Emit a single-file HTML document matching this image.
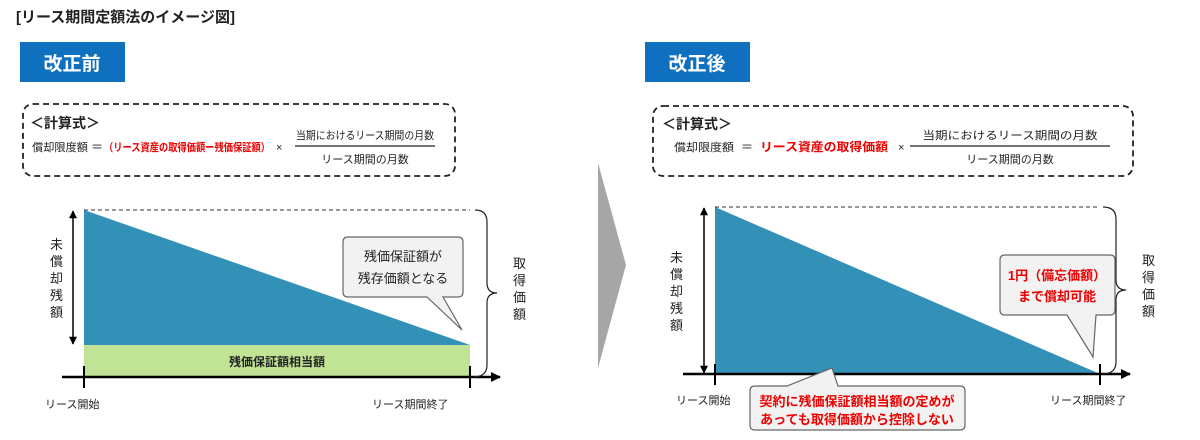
<!DOCTYPE html>
<html><head><meta charset="utf-8"><style>
body{margin:0;background:#fff}
svg{display:block}
text{font-family:"Liberation Sans","Noto Sans CJK JP",sans-serif;fill:#222}
</style></head><body>
<svg width="1200" height="440" viewBox="0 0 1200 440" xmlns="http://www.w3.org/2000/svg">
<defs>
<marker id="ah" viewBox="0 0 10 10" refX="9" refY="5" markerWidth="9" markerHeight="8" markerUnits="userSpaceOnUse" orient="auto-start-reverse"><path d="M0,0L10,5L0,10z" fill="#000"/></marker>
<marker id="ah2" viewBox="0 0 10 10" refX="9" refY="5" markerWidth="12" markerHeight="10" markerUnits="userSpaceOnUse" orient="auto"><path d="M0,0L10,5L0,10z" fill="#000"/></marker>
</defs>
<text x="16" y="22" font-size="15" font-weight="bold">[リース期間定額法のイメージ図]</text>

<!-- LEFT -->
<rect x="20" y="42" width="105" height="40" fill="#0f70c0"/>
<text x="72" y="70" font-size="19" style="fill:#fff" text-anchor="middle" font-weight="bold">改正前</text>
<rect x="23" y="104" width="432" height="72" rx="10" fill="none" stroke="#222" stroke-width="1.8" stroke-dasharray="6,4"/>
<text x="30" y="128" font-size="14" font-weight="bold">＜計算式＞</text>
<text x="32" y="151" font-size="11" textLength="56" lengthAdjust="spacingAndGlyphs">償却限度額</text>
<text x="91" y="151" font-size="12">＝</text>
<text x="104" y="151" font-size="11" font-weight="bold" style="fill:#e00" textLength="166" lengthAdjust="spacingAndGlyphs">（リース資産の取得価額ー残価保証額）</text>
<text x="276" y="151" font-size="11">×</text>
<line x1="295" y1="146" x2="435" y2="146" stroke="#222" stroke-width="1.2"/>
<text x="365" y="139" font-size="11" text-anchor="middle" textLength="138" lengthAdjust="spacingAndGlyphs">当期におけるリース期間の月数</text>
<text x="365" y="163" font-size="11" text-anchor="middle">リース期間の月数</text>

<polygon points="84,210 84,345 470,345" fill="#3391b8"/>
<rect x="84" y="345" width="386" height="32" fill="#c1e395"/>
<text x="277" y="366" font-size="12" font-weight="bold" text-anchor="middle">残価保証額相当額</text>
<line x1="84" y1="210" x2="470" y2="210" stroke="#333" stroke-dasharray="4,3"/>
<line x1="73" y1="211" x2="73" y2="344" stroke="#000" stroke-width="1.5" marker-start="url(#ah)" marker-end="url(#ah)"/>
<line x1="62" y1="377" x2="500" y2="377" stroke="#000" stroke-width="2.5" marker-end="url(#ah2)"/>
<line x1="84" y1="366" x2="84" y2="388" stroke="#000" stroke-width="2"/>
<line x1="470" y1="366" x2="470" y2="388" stroke="#000" stroke-width="2"/>
<path d="M475,210 Q487,210 487,222 L487,283 Q487,293 497,293 Q487,293 487,303 L487,365 Q487,377 473,377" fill="none" stroke="#222" stroke-width="1.2"/>
<text font-size="13"><tspan x="50" y="249">未</tspan><tspan x="50" y="266">償</tspan><tspan x="50" y="283">却</tspan><tspan x="50" y="300">残</tspan><tspan x="50" y="317">額</tspan></text>
<text font-size="13"><tspan x="513" y="268">取</tspan><tspan x="513" y="285">得</tspan><tspan x="513" y="302">価</tspan><tspan x="513" y="319">額</tspan></text>
<path d="M348,237 H458 Q463,237 463,242 V292 Q463,297 458,297 H443 L462,330 L427,297 H348 Q343,297 343,292 V242 Q343,237 348,237 Z" fill="#f2f2f2" stroke="#666" stroke-width="1.2"/>
<text x="403" y="261" font-size="13" text-anchor="middle">残価保証額が</text>
<text x="403" y="283" font-size="13" text-anchor="middle">残存価額となる</text>
<text x="45" y="408" font-size="11">リース開始</text>
<text x="372" y="408" font-size="11">リース期間終了</text>

<!-- chevron -->
<polygon points="598,163 626,265 598,368" fill="#a6a6a6"/>

<!-- RIGHT -->
<rect x="645" y="42" width="105" height="40" fill="#0f70c0"/>
<text x="697" y="70" font-size="19" style="fill:#fff" text-anchor="middle" font-weight="bold">改正後</text>
<rect x="653" y="106" width="480" height="70" rx="10" fill="none" stroke="#222" stroke-width="1.8" stroke-dasharray="6,4"/>
<text x="662" y="129" font-size="14" font-weight="bold">＜計算式＞</text>
<text x="674" y="151" font-size="11" textLength="60" lengthAdjust="spacingAndGlyphs">償却限度額</text>
<text x="741" y="151" font-size="12">＝</text>
<text x="760" y="151" font-size="12" font-weight="bold" style="fill:#e00" textLength="128" lengthAdjust="spacingAndGlyphs">リース資産の取得価額</text>
<text x="898" y="151" font-size="11">×</text>
<line x1="910" y1="146" x2="1110" y2="146" stroke="#222" stroke-width="1.2"/>
<text x="1010" y="139" font-size="11" text-anchor="middle" textLength="175" lengthAdjust="spacingAndGlyphs">当期におけるリース期間の月数</text>
<text x="1010" y="163" font-size="11" text-anchor="middle">リース期間の月数</text>

<polygon points="715,207 715,374 1100,374" fill="#3391b8"/>
<line x1="715" y1="207" x2="1100" y2="207" stroke="#333" stroke-dasharray="4,3"/>
<line x1="704" y1="208" x2="704" y2="373" stroke="#000" stroke-width="1.5" marker-start="url(#ah)" marker-end="url(#ah)"/>
<line x1="683" y1="374" x2="1130" y2="374" stroke="#000" stroke-width="2.5" marker-end="url(#ah2)"/>
<line x1="715" y1="364" x2="715" y2="385" stroke="#000" stroke-width="2"/>
<line x1="1100" y1="364" x2="1100" y2="385" stroke="#000" stroke-width="2"/>
<path d="M1103,207 Q1116,207 1116,219 L1116,280 Q1116,290 1126,290 Q1116,290 1116,300 L1116,362 Q1116,374 1102,374" fill="none" stroke="#222" stroke-width="1.2"/>
<text font-size="13"><tspan x="670" y="262">未</tspan><tspan x="670" y="279">償</tspan><tspan x="670" y="296">却</tspan><tspan x="670" y="313">残</tspan><tspan x="670" y="330">額</tspan></text>
<text font-size="13"><tspan x="1142" y="265">取</tspan><tspan x="1142" y="282">得</tspan><tspan x="1142" y="299">価</tspan><tspan x="1142" y="316">額</tspan></text>
<path d="M1005,255 H1110 Q1115,255 1115,260 V310 Q1115,315 1110,315 H1096 L1093,357 L1067,315 H1005 Q1000,315 1000,310 V260 Q1000,255 1005,255 Z" fill="#f2f2f2" stroke="#666" stroke-width="1.2"/>
<text x="1057" y="280" font-size="13" font-weight="bold" style="fill:#e00" text-anchor="middle">1円（備忘価額）</text>
<text x="1057" y="301" font-size="13" font-weight="bold" style="fill:#e00" text-anchor="middle">まで償却可能</text>
<path d="M755,386 H787 L832,368 L838,386 H960 Q965,386 965,391 V425 Q965,430 960,430 H755 Q750,430 750,425 V391 Q750,386 755,386 Z" fill="#f2f2f2" stroke="#666" stroke-width="1.2"/>
<text x="857" y="406" font-size="13" font-weight="bold" style="fill:#e00" text-anchor="middle">契約に残価保証額相当額の定めが</text>
<text x="857" y="424" font-size="13" font-weight="bold" style="fill:#e00" text-anchor="middle">あっても取得価額から控除しない</text>
<text x="676" y="404" font-size="11">リース開始</text>
<text x="1050" y="404" font-size="11">リース期間終了</text>
</svg>
</body></html>
